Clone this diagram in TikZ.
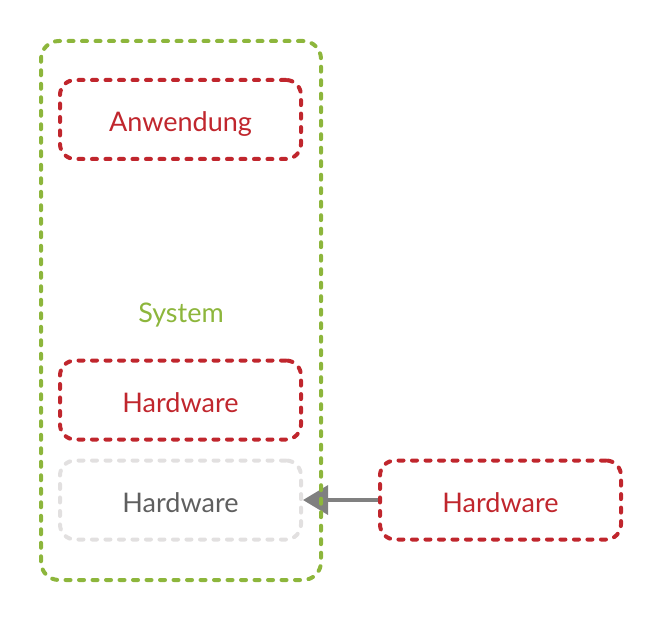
\documentclass[tikz,border=0pt]{standalone}
\usepackage{fontspec}
\setmainfont{Lato}
\usetikzlibrary{arrows.meta}
\definecolor{cgreen}{HTML}{8DB63C}
\definecolor{cred}{HTML}{C0262D}
\definecolor{cgray}{HTML}{E2E0E0}
\definecolor{ctext}{HTML}{5F5F5F}
\definecolor{carrow}{HTML}{808080}
\tikzset{
  dashline/.style={line width=4pt, line cap=round, dash pattern=on 5pt off 8.5pt},
  box/.style={draw=cred, dashline, rounded corners=15pt,
    minimum width=241pt, minimum height=79pt, inner sep=0pt, text=cred,
    font=\fontsize{27}{32}\selectfont, text height=24pt, text depth=0pt},
  ghost/.style={box, draw=cgray, text=ctext},
  outer/.style={draw=cgreen, dashline, rounded corners=18pt,
    minimum width=280pt, minimum height=539pt, inner sep=0pt},
  lbl/.style={text=cgreen, font=\fontsize{27}{32}\selectfont, text height=24pt, text depth=0pt}
}
\begin{document}
\begin{tikzpicture}[x=1pt,y=-1pt]
\useasboundingbox (0,0) rectangle (660,620);
\node[box] (app) at (180.5,119.5) {Anwendung};
\node[box] (hw1) at (180.5,400) {Hardware};
\node[ghost] (hw2) at (180.5,500) {Hardware};
\node[box] (hw3) at (500.5,500) {Hardware};
\draw[carrow, line width=3.5pt, -{Triangle[length=25pt,width=29pt]}] (hw3.west) -- (hw2.east);
\node[outer] (sys) at (181,310.5) {};
\node[lbl] (syslbl) at (181,310) {System};
\end{tikzpicture}
\end{document}
